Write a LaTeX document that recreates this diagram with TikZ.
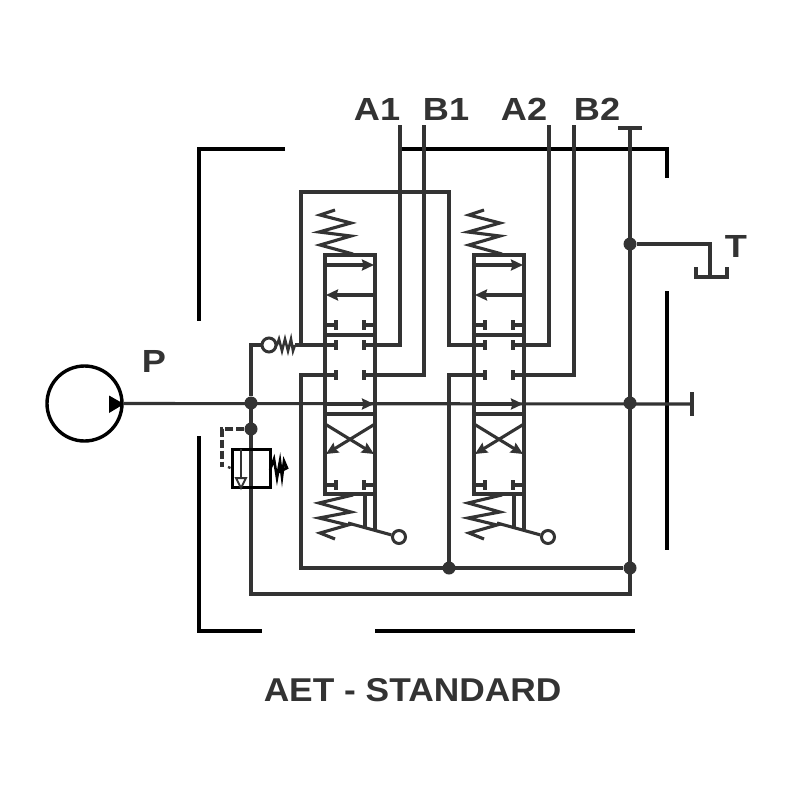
\documentclass[tikz,border=0pt]{standalone}
\usepackage{fontspec}
\setmainfont{Liberation Sans}
\usepackage{xcolor}
\usetikzlibrary{arrows.meta, shapes}
\definecolor{inkline}{HTML}{333333}
\tikzset{
		pipe/.style={draw=inkline,line width=3.1pt,line join=miter},
		frameline/.style={draw=black,line width=3.8pt},
		joint/.style={circle,fill=inkline,inner sep=0pt,minimum size=13pt},
		port/.style={circle,draw=inkline,fill=white,line width=3pt,inner sep=0pt,minimum size=13pt},
		flow/.style={pipe,-{Stealth[length=12pt,width=11pt,inset=1.5pt]}},
		portlabel/.style={font=\addfontfeature{FakeStretch=1.13}\bfseries\fontsize{32}{32}\selectfont,text=inkline,inner sep=0pt}
	}

\begin{document}
\begin{tikzpicture}[x=1pt,y=-1pt]
				\useasboundingbox (0,0) rectangle (800,800);
				\fill[white] (0,0) rectangle (800,800);

				% frame
				\draw[frameline] (285,149) -- (199,149) -- (199,321);
				\draw[frameline] (199,436) -- (199,631) -- (262,631);
				\draw[frameline] (375,631) -- (635,631);
				\draw[frameline] (398,149) -- (667,149) -- (667,178);
				\draw[frameline] (667,291) -- (667,550);

				% labels
				\node[portlabel] (a1) at (377,109) {A1};
				\node[portlabel] (b1) at (446,109) {B1};
				\node[portlabel] (a2) at (524,109) {A2};
				\node[portlabel] (b2) at (597,109) {B2};
				\node[portlabel] (p)  at (154,361.5) {P};
				\node[portlabel] (t)  at (736,246) {T};
				\node[portlabel,font=\addfontfeature{FakeStretch=1.07}\bfseries\fontsize{33}{33}\selectfont] (title) at (412.5,690) {AET - STANDARD};

				% pump
				\node[circle,draw=black,line width=3.4pt,inner sep=0pt,minimum size=75pt] (pump) at (84.5,403.5) {};
				\fill[black] (109,395.5) -- (124,404) -- (109,413) -- cycle;

				% joints
				\node[joint] (jp)  at (251,403) {};
				\node[joint] (jr)  at (251,429) {};
				\node[joint] (jt1) at (630,244) {};
				\node[joint] (jt2) at (630,403) {};
				\node[joint] (jt3) at (630,568) {};
				\node[joint] (jv)  at (449,568) {};

				\coordinate (pend) at (693,404);
				\coordinate (ttop) at (630,128);
				\coordinate (tdrop) at (710,244);
				\coordinate (tank) at (710,277);
				\coordinate (rback) at (251,594);
				\coordinate (tback) at (630,594);

				% main lines
				\draw[pipe] (pump.east) -- (pend);
				\draw[pipe] (692,392) -- (692,416);
				\draw[pipe] (ttop) -- (tback) -- (rback) -- (jp.center);
				\draw[pipe] (618,128) -- (642,128);
				\draw[pipe] (jt1) -- (tdrop) -- (tank);
				\draw[pipe] (696,267) -- (696,277) -- (727,277) -- (727,267);
				\draw[pipe] (336,375) -- (301,375) -- (301,568) -- (jt3);

				% loop over the top of the valves
				\draw[pipe] (301,345) -- (301,192) -- (449,192) -- (449,345) -- (474,345);
				\draw[pipe] (485,375) -- (449,375) -- (449,568);

				% work ports
				\draw[pipe] (400,125) -- (400,345) -- (364,345);
				\draw[pipe] (424,125) -- (424,375) -- (364,375);
				\draw[pipe] (549,125) -- (549,345) -- (513,345);
				\draw[pipe] (574,125) -- (574,375) -- (513,375);

				% check valve
				\node[port,minimum size=14pt] (check) at (269,345) {};
				\draw[pipe] (jp) -- (251,345) -- (check);
				\draw[pipe,line width=2.5pt] (check) -- (277,345) -- (279,339) -- (282,351) -- (285,339) -- (288,351) -- (291,339) -- (293,351) -- (295,345);
				\draw[pipe] (295,345) -- (336,345);

				% relief valve
				\node[draw=black,line width=3pt,inner sep=0pt,minimum width=38pt,minimum height=38pt] (relief) at (251,468) {};
				\draw[pipe] (jr) -- (relief.north);
				\draw[pipe] (relief.south) -- (rback);
				\draw[pipe,dash pattern=on 8pt off 3pt] (jr) -- (222,429) -- (222,467);
				\draw[pipe,line width=2.4pt] (228,467) -- (relief.west);
				\draw[pipe,line width=2.4pt] (241,449) -- (241,478);
				\draw[draw=inkline,line width=2pt,fill=white] (236,478) -- (246,478) -- (241,488) -- cycle;
				\draw[draw=black,line width=2.6pt] (270,470) -- (274,459) -- (277,478) -- (280,461) -- (282,477) -- (284,461) -- (287,468) -- (279,472);

				% the two valves
				\foreach \v/\dx in {1/0,2/149}{
					\begin{scope}[xshift=\dx pt]
						\node[draw=inkline,line width=3.1pt,inner sep=0pt,minimum width=50pt,minimum height=239pt] (valve\v) at (350,374.5) {};
						\draw[pipe] (valve\v.west |- 0,335) -- (valve\v.east |- 0,335);
						\draw[pipe] (valve\v.west |- 0,414) -- (valve\v.east |- 0,414);
						% straight flow
						\draw[flow] (325,265) -- (374,265);
						\draw[flow] (375,295) -- (326,295);
						\draw[flow] (325,404) -- (374,404);
						% crossed flow
						\draw[flow] (325,424) -- (374,454);
						\draw[flow] (375,424) -- (326,454);
						% blocked ports
						\foreach \py in {325,345,375,485}{
							\draw[pipe] (325,\py) -- (336,\py);
							\draw[pipe] (364,\py) -- (375,\py);
							\draw[pipe] (336,\py-5) -- (336,\py+5);
							\draw[pipe] (364,\py-5) -- (364,\py+5);
						}
						% springs
						\draw[pipe] (353,254) -- (320,245) -- (351,236) -- (319,232) -- (351,223) -- (320,215) -- (335,210);
						\draw[pipe] (353,495) -- (319,503) -- (351,512) -- (319,518) -- (348,525) -- (320,533) -- (335,539);
						% lever
						\node[port] (knob\v) at (399,537) {};
						\draw[pipe] (348,523) -- (knob\v);
						\draw[pipe] (365,494) -- (365,527);
						\draw[pipe] (375,494) -- (375,530);
					\end{scope}
				}
			\end{tikzpicture}
\end{document}
